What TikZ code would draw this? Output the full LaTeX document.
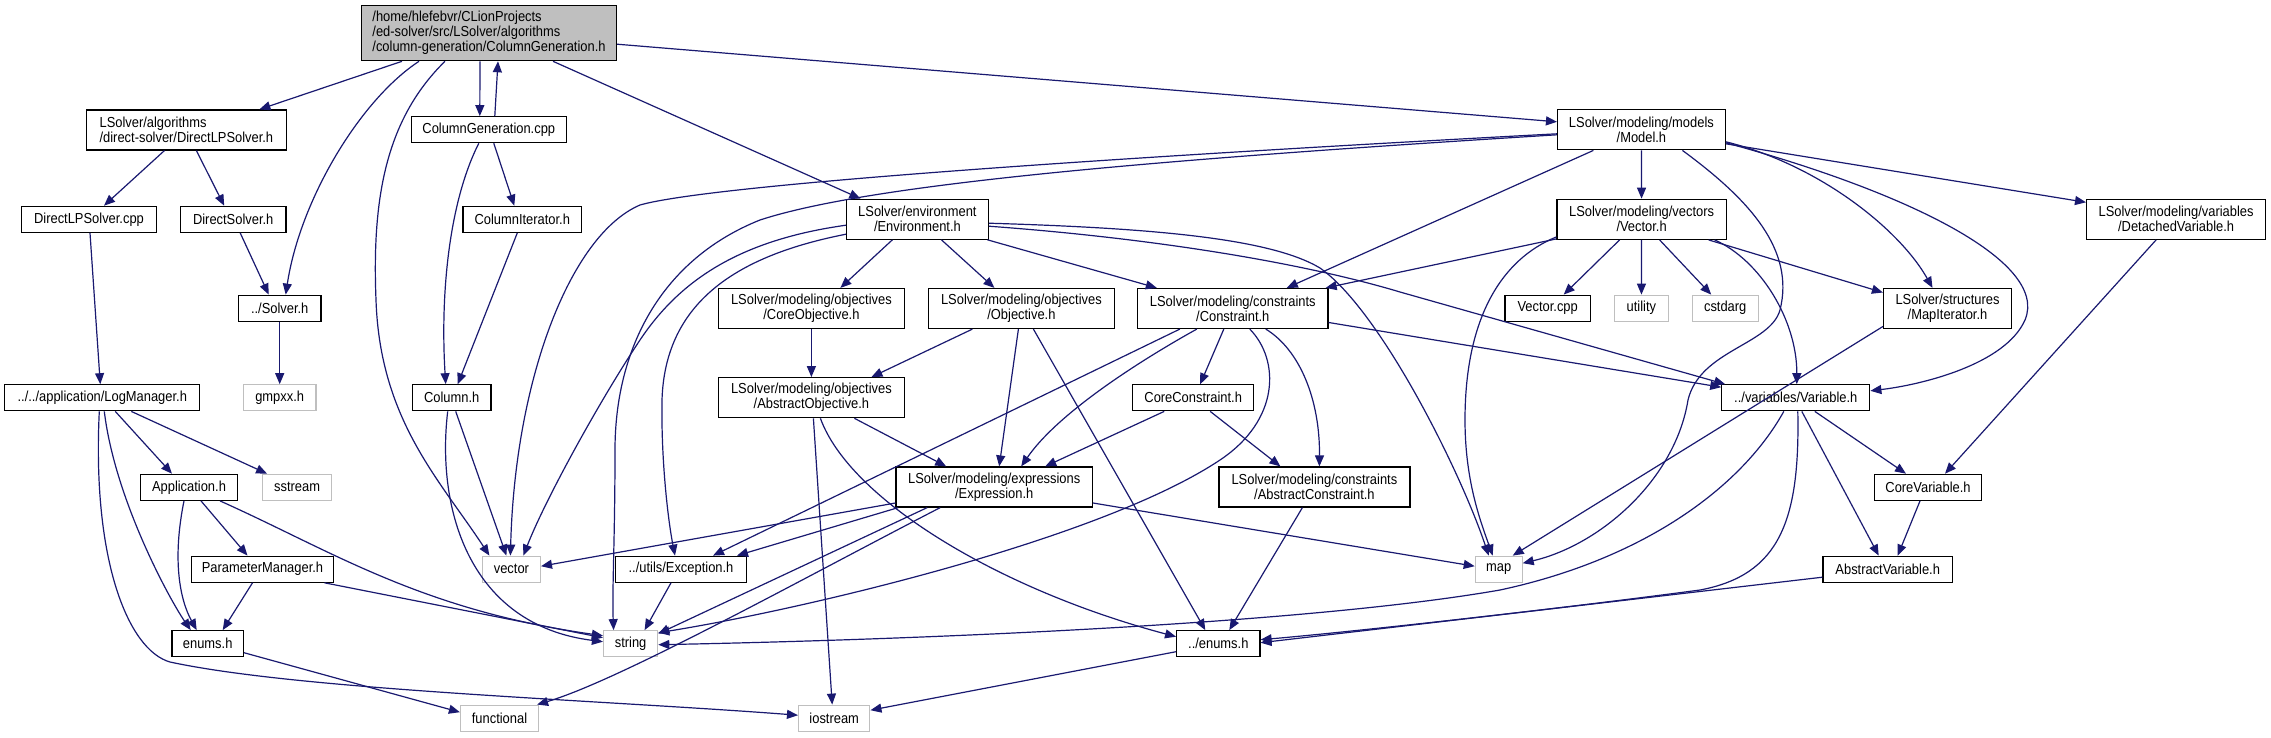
\documentclass[tikz,border=0pt]{standalone}
\usepackage{fontspec}
\setmainfont{Liberation Sans}[FakeStretch=0.89]
\usetikzlibrary{arrows.meta}
\definecolor{edgec}{HTML}{191970}
\definecolor{sysc}{HTML}{BFBFBF}
\definecolor{rootc}{HTML}{BFBFBF}
\begin{document}
\begin{tikzpicture}[x=1pt,y=-1pt,
  box/.style={draw=black, line width=1.2pt, fill=white, inner sep=0pt, align=center, font=\fontsize{14.5}{15}\selectfont},
  sys/.style={box, draw=sysc},
  root/.style={box, fill=rootc},
  dep/.style={draw=edgec, line width=1.2pt, -{Triangle[length=11pt,width=9pt]}}]
\fill[white] (0,0) rectangle (2271,737);
\useasboundingbox (0,0) rectangle (2271,737);
% nodes
\node[root, minimum width=255pt, minimum height=55pt, align=left] (main) at (489,33.2) {/home/hlefebvr/CLionProjects\\/ed-solver/src/LSolver/algorithms\\/column-generation/ColumnGeneration.h};
\node[box, minimum width=200pt, minimum height=40pt, align=left] (dlps) at (186.4,130) {LSolver/algorithms\\/direct-solver/DirectLPSolver.h};
\node[box, minimum width=154.6pt, minimum height=26pt] (cgcpp) at (488.8,129.7) {ColumnGeneration.cpp};
\node[box, minimum width=167.7pt, minimum height=40pt] (model) at (1641.4,129.8) {LSolver/modeling/models\\/Model.h};
\node[box, minimum width=135.3pt, minimum height=26pt] (dlpscpp) at (89,219.3) {DirectLPSolver.cpp};
\node[box, minimum width=105.7pt, minimum height=26pt] (dsolver) at (233.2,219.3) {DirectSolver.h};
\node[box, minimum width=118.7pt, minimum height=26pt] (coliter) at (522.3,219.3) {ColumnIterator.h};
\node[box, minimum width=141.6pt, minimum height=40pt] (env) at (917.4,219.2) {LSolver/environment\\/Environment.h};
\node[box, minimum width=169.2pt, minimum height=40pt] (vectorh) at (1641.6,219.3) {LSolver/modeling/vectors\\/Vector.h};
\node[box, minimum width=179pt, minimum height=40pt] (detvar) at (2176.1,219.3) {LSolver/modeling/variables\\/DetachedVariable.h};
\node[box, minimum width=82.4pt, minimum height=26pt] (solver) at (279.7,308.2) {../Solver.h};
\node[box, minimum width=186pt, minimum height=40pt] (coreobj) at (811.4,308.5) {LSolver/modeling/objectives\\/CoreObjective.h};
\node[box, minimum width=185.7pt, minimum height=40pt] (obj) at (1021.4,308.5) {LSolver/modeling/objectives\\/Objective.h};
\node[box, minimum width=190.5pt, minimum height=40pt] (constr) at (1232.8,308.5) {LSolver/modeling/constraints\\/Constraint.h};
\node[box, minimum width=85.6pt, minimum height=26pt] (vcpp) at (1547.7,308.2) {Vector.cpp};
\node[sys, minimum width=53.6pt, minimum height=26pt] (utility) at (1641.4,308.2) {utility};
\node[sys, minimum width=65.8pt, minimum height=26pt] (cstdarg) at (1725.2,308.2) {cstdarg};
\node[box, minimum width=128pt, minimum height=40pt] (mapit) at (1947.5,308.5) {LSolver/structures\\/MapIterator.h};
\node[box, minimum width=195pt, minimum height=26pt] (logm) at (102.3,397.8) {../../application/LogManager.h};
\node[sys, minimum width=72.7pt, minimum height=26pt] (gmpxx) at (279.7,397.8) {gmpxx.h};
\node[box, minimum width=78.5pt, minimum height=26pt] (column) at (451.7,397.8) {Column.h};
\node[box, minimum width=186pt, minimum height=40pt] (absobj) at (811.4,397.7) {LSolver/modeling/objectives\\/AbstractObjective.h};
\node[box, minimum width=121.2pt, minimum height=26pt] (corecon) at (1193.2,397.8) {CoreConstraint.h};
\node[box, minimum width=148pt, minimum height=26pt] (variable) at (1795.8,397.8) {../variables/Variable.h};
\node[box, minimum width=97pt, minimum height=26pt] (app) at (189,487.3) {Application.h};
\node[sys, minimum width=68.8pt, minimum height=26pt] (sstream) at (297.1,487.3) {sstream};
\node[box, minimum width=196.3pt, minimum height=40pt] (expr) at (994.2,487) {LSolver/modeling/expressions\\/Expression.h};
\node[box, minimum width=191pt, minimum height=40pt] (abscon) at (1314.4,487) {LSolver/modeling/constraints\\/AbstractConstraint.h};
\node[box, minimum width=107.7pt, minimum height=26pt] (corevar) at (1928,487.3) {CoreVariable.h};
\node[box, minimum width=142pt, minimum height=26pt] (parm) at (262.5,569.2) {ParameterManager.h};
\node[sys, minimum width=58pt, minimum height=26pt] (vector) at (511.4,569.2) {vector};
\node[box, minimum width=130.8pt, minimum height=26pt] (except) at (681,569.2) {../utils/Exception.h};
\node[sys, minimum width=46.8pt, minimum height=26pt] (map) at (1498.7,569.2) {map};
\node[box, minimum width=129.4pt, minimum height=26pt] (absvar) at (1887.7,569.2) {AbstractVariable.h};
\node[box, minimum width=71.3pt, minimum height=26pt] (enums) at (207.7,643.7) {enums.h};
\node[sys, minimum width=54.2pt, minimum height=26pt] (string) at (630.6,643.7) {string};
\node[box, minimum width=83.3pt, minimum height=26pt] (enums2) at (1218.3,643.7) {../enums.h};
\node[sys, minimum width=78pt, minimum height=26pt] (functional) at (499.5,718.2) {functional};
\node[sys, minimum width=71.3pt, minimum height=26pt] (iostream) at (834.2,718.2) {iostream};
% edges
\draw[dep] ([xshift=-87pt]main.south) -- ([xshift=73pt]dlps.north);
\draw[dep] ([xshift=-70pt]main.south) .. controls (360,100) and (300,200) .. ([xshift=6pt]solver.north);
\draw[dep] ([xshift=-44pt]main.south) .. controls (385,120) and (372,200) .. (376,300) .. controls (380,420) and (440,480) .. ([xshift=-22pt]vector.north);
\draw[dep] ([xshift=-9pt]main.south) -- ([xshift=-9pt]cgcpp.north);
\draw[dep] ([xshift=6pt]cgcpp.north) -- ([xshift=9pt]main.south);
\draw[dep] ([xshift=64pt]main.south) -- ([xshift=-57pt]env.north);
\draw[dep] ([yshift=-11pt]main.east) -- ([yshift=8pt]model.west);
\draw[dep] ([xshift=-22pt]dlps.south) -- ([xshift=15pt]dlpscpp.north);
\draw[dep] ([xshift=10pt]dlps.south) -- ([xshift=-9pt]dsolver.north);
\draw[dep] ([xshift=7pt]dsolver.south) -- ([xshift=-11pt]solver.north);
\draw[dep] (solver) -- (gmpxx);
\draw[dep] ([xshift=1pt]dlpscpp.south) -- ([xshift=-2pt]logm.north);
\draw[dep] ([xshift=5pt]cgcpp.south) -- ([xshift=-8pt]coliter.north);
\draw[dep] ([xshift=-10pt]cgcpp.south) .. controls (450,200) and (440,290) .. ([xshift=-6pt]column.north);
\draw[dep] ([xshift=-5pt]coliter.south) -- ([xshift=6pt]column.north);
\draw[dep] ([xshift=4pt]column.south) -- ([xshift=-5pt]vector.north);
\draw[dep] ([xshift=-4pt]column.south) .. controls (436,510) and (470,625) .. ([yshift=2pt]string.west);
\draw[dep] ([xshift=13pt]logm.south) -- ([xshift=-17pt]app.north);
\draw[dep] ([xshift=29pt]logm.south) -- ([xshift=-30pt]sstream.north);
\draw[dep] ([xshift=2pt]logm.south) .. controls (115,500) and (170,600) .. ([xshift=-17pt]enums.north);
\draw[dep] ([xshift=-3pt]logm.south) .. controls (92,560) and (128,650) .. (170,662) .. controls (300,690) and (600,700) .. ([yshift=3pt]iostream.west);
\draw[dep] ([xshift=-5pt]app.south) .. controls (172,560) and (180,600) .. ([xshift=-11pt]enums.north);
\draw[dep] ([xshift=12pt]app.south) -- ([xshift=-15pt]parm.north);
\draw[dep] ([xshift=31pt]app.south) .. controls (330,550) and (420,610) .. ([yshift=8pt]string.west);
\draw[dep] ([xshift=-10pt]parm.south) -- ([xshift=15pt]enums.north);
\draw[dep] ([xshift=62pt]parm.south) -- ([yshift=6pt]string.west);
\draw[dep] ([yshift=-9pt]enums.east) -- ([yshift=6pt]functional.west);
\draw[dep] ([xshift=-25pt]env.south) -- ([xshift=29pt]coreobj.north);
\draw[dep] ([xshift=24pt]env.south) -- ([xshift=-27pt]obj.north);
\draw[dep] ([xshift=70pt]env.south) -- ([xshift=-76pt]constr.north);
\draw[dep] ([yshift=-6pt]env.west) .. controls (740,240) and (680,280) .. (640,340) .. controls (600,400) and (545,500) .. ([xshift=12pt]vector.north);
\draw[dep] ([yshift=-15pt]env.west) .. controls (740,255) and (665,300) .. (662,400) .. controls (661,460) and (668,520) .. ([xshift=-6pt]except.north);
\draw[dep] ([yshift=-4pt]env.east) .. controls (1150,228) and (1270,238) .. (1320,268) .. controls (1380,310) and (1460,470) .. ([xshift=-10pt]map.north);
\draw[dep] ([yshift=-7pt]env.east) .. controls (1150,238) and (1300,262) .. (1400,292) -- ([xshift=4pt]variable.north west);
\draw[dep] ([xshift=-48pt]model.south) -- ([xshift=54pt]constr.north);
\draw[dep] (model) -- (vectorh);
\draw[dep] ([xshift=41pt]model.south) .. controls (1750,200) and (1795,250) .. (1780,310) .. controls (1770,345) and (1700,350) .. (1688,400) .. controls (1675,480) and (1600,545) .. ([yshift=6pt]map.east);
\draw[dep] ([yshift=-12pt]model.east) .. controls (1820,165) and (1900,230) .. ([xshift=-15pt]mapit.north);
\draw[dep] ([yshift=-13pt]model.east) .. controls (1900,190) and (2050,260) .. (2025,320) .. controls (2005,365) and (1920,385) .. ([yshift=7pt]variable.east);
\draw[dep] ([yshift=-14pt]model.east) -- ([yshift=17pt]detvar.west);
\draw[dep] ([yshift=-4pt]model.west) .. controls (1100,158) and (710,185) .. (640,205) .. controls (570,235) and (515,380) .. ([xshift=-1pt]vector.north);
\draw[dep] ([yshift=-5pt]model.west) .. controls (1150,160) and (870,184) .. (760,220) .. controls (660,260) and (615,350) .. (615,450) .. controls (615,540) and (612,590) .. ([xshift=-17pt]string.north);
\draw[dep] ([xshift=-22pt]vectorh.south) -- ([xshift=16pt]vcpp.north);
\draw[dep] (vectorh) -- (utility);
\draw[dep] ([xshift=18pt]vectorh.south) -- ([xshift=-14pt]cstdarg.north);
\draw[dep] ([xshift=67pt]vectorh.south) -- ([yshift=16pt]mapit.west);
\draw[dep] ([yshift=1pt]vectorh.south west) -- ([xshift=-3pt]constr.north east);
\draw[dep] ([yshift=3pt]vectorh.south west) .. controls (1500,260) and (1465,320) .. (1465,420) .. controls (1465,480) and (1480,520) .. ([xshift=-6pt]map.north);
\draw[dep] ([xshift=73pt]vectorh.south) .. controls (1760,260) and (1797,320) .. ([xshift=1pt]variable.north);
\draw[dep] ([xshift=-53pt]constr.south) -- ([xshift=32pt]except.north);
\draw[dep] ([xshift=-36pt]constr.south) .. controls (1150,355) and (1060,410) .. ([xshift=27pt]expr.north);
\draw[dep] ([xshift=-9pt]constr.south) -- ([xshift=7pt]corecon.north);
\draw[dep] ([xshift=17pt]constr.south) .. controls (1280,360) and (1280,420) .. (1220,460) .. controls (1100,540) and (800,610) .. ([yshift=11pt]string.east);
\draw[dep] ([xshift=33pt]constr.south) .. controls (1300,350) and (1320,400) .. ([xshift=5pt]abscon.north);
\draw[dep] ([yshift=-14pt]constr.east) -- ([yshift=-3pt]variable.north west);
\draw[dep] ([xshift=-49pt]obj.south) -- ([xshift=60pt]absobj.north);
\draw[dep] ([xshift=-3pt]obj.south) -- ([xshift=5pt]expr.north);
\draw[dep] ([xshift=12pt]obj.south) -- ([xshift=-13pt]enums2.north);
\draw[dep] (coreobj) -- (absobj);
\draw[dep] ([xshift=43pt]absobj.south) -- ([xshift=-48pt]expr.north);
\draw[dep] ([xshift=2pt]absobj.south) -- ([xshift=-2pt]iostream.north);
\draw[dep] ([xshift=9pt]absobj.south) .. controls (850,500) and (1000,590) .. ([yshift=7pt]enums2.west);
\draw[dep] ([xshift=-29pt]corecon.south) -- ([xshift=51pt]expr.north);
\draw[dep] ([xshift=17pt]corecon.south) -- ([xshift=-34pt]abscon.north);
\draw[dep] ([yshift=-16pt]expr.west) -- ([yshift=3pt]vector.east);
\draw[dep] ([xshift=-96pt]expr.south) -- ([xshift=56pt]except.north);
\draw[dep] ([xshift=-67pt]expr.south) -- ([yshift=10pt]string.east);
\draw[dep] ([xshift=-54pt]expr.south) .. controls (800,580) and (620,680) .. ([xshift=-2pt]functional.north east);
\draw[dep] ([yshift=-16pt]expr.east) -- ([yshift=3pt]map.west);
\draw[dep] ([xshift=-12pt]abscon.south) -- ([xshift=11pt]enums2.north);
\draw[dep] ([yshift=-8pt]enums2.west) -- ([yshift=8pt]iostream.east);
\draw[dep] ([xshift=-10pt]except.south) -- ([xshift=14pt]string.north);
\draw[dep] ([yshift=-18pt]mapit.west) -- ([xshift=14pt]map.north);
\draw[dep] ([xshift=-12pt]variable.south) .. controls (1740,490) and (1640,560) .. (1500,590) .. controls (1300,625) and (900,640) .. ([yshift=-1pt]string.east);
\draw[dep] ([xshift=2pt]variable.south) .. controls (1800,520) and (1780,575) .. (1700,590) .. controls (1550,610) and (1350,632) .. ([yshift=4pt]enums2.east);
\draw[dep] ([xshift=6pt]variable.south) -- ([xshift=-9pt]absvar.north);
\draw[dep] ([xshift=19pt]variable.south) -- ([xshift=-22pt]corevar.north);
\draw[dep] ([xshift=-8pt]corevar.south) -- ([xshift=10pt]absvar.north);
\draw[dep] ([xshift=-20pt]detvar.south) -- ([xshift=17pt]corevar.north);
\draw[dep] ([yshift=-8pt]absvar.west) -- ([yshift=1pt]enums2.east);
\end{tikzpicture}
\end{document}
